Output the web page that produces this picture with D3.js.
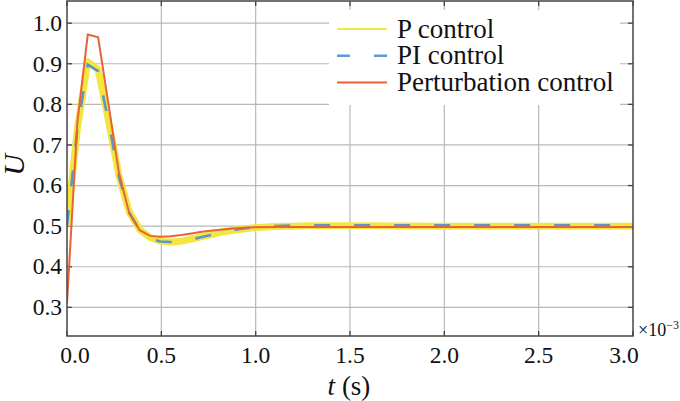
<!DOCTYPE html>
<html>
<head>
<meta charset="utf-8">
<script src="https://cdn.jsdelivr.net/npm/d3@7"></script>
<style>
  body { margin: 0; background: #fff; }
</style>
</head>
<body>
<div id="chart"></div>
<script>
// time in units of 1e-3 s
const time = [0, 0.055, 0.11, 0.165, 0.22, 0.275, 0.33, 0.385, 0.44, 0.495, 0.55, 0.605,
  0.66, 0.715, 0.77, 0.825, 0.88, 0.935, 0.99, 1.1, 1.2, 1.3, 1.5, 2.0, 2.5, 3.0];

const pControl = [0.50, 0.74, 0.905, 0.886, 0.76, 0.625, 0.535, 0.492, 0.472, 0.463, 0.461, 0.463,
  0.468, 0.474, 0.48, 0.486, 0.49, 0.493, 0.496, 0.499, 0.5, 0.501, 0.501, 0.5, 0.5, 0.5];

const piControl = [0.50, 0.74, 0.898, 0.882, 0.757, 0.622, 0.533, 0.49, 0.47, 0.462, 0.461, 0.463,
  0.467, 0.473, 0.479, 0.485, 0.49, 0.494, 0.497, 0.5, 0.502, 0.502, 0.502, 0.502, 0.502, 0.502];

const perturbControl = [0.31, 0.755, 0.972, 0.965, 0.80, 0.632, 0.532, 0.49, 0.476, 0.474, 0.475, 0.478,
  0.482, 0.486, 0.489, 0.492, 0.494, 0.496, 0.497, 0.498, 0.498, 0.498, 0.498, 0.498, 0.498, 0.498];

const seriesNames = ["P control", "PI control", "Perturbation control"];
const xTicks = [0, 0.5, 1.0, 1.5, 2.0, 2.5, 3.0];
const yTicks = [0.3, 0.4, 0.5, 0.6, 0.7, 0.8, 0.9, 1.0];

const width = 680, height = 401;
const pLeft = 67, pRight = 633, pTop = 1, pBottom = 336;

const svg = d3.select("#chart").append("svg")
  .attr("width", width)
  .attr("height", height)
  .attr("font-family", "Liberation Serif")
  .style("display", "block");

const x = d3.scaleLinear().domain([0, 3]).range([pLeft, pRight]);
const y = d3.scaleLinear().domain([0.2294, 1.0546]).range([pBottom, pTop]);

// grid
const grid = svg.append("g").attr("stroke", "#b9b9b9").attr("stroke-width", 1.2);
grid.selectAll(".vx").data(xTicks.slice(1, -1)).join("line")
  .attr("x1", d => x(d)).attr("x2", d => x(d))
  .attr("y1", pTop).attr("y2", pBottom);
grid.selectAll(".hy").data(yTicks).join("line")
  .attr("x1", pLeft).attr("x2", pRight)
  .attr("y1", d => y(d)).attr("y2", d => y(d));

// inward ticks on all four sides
const ticks = svg.append("g").attr("stroke", "#444").attr("stroke-width", 1.3);
ticks.selectAll(".tb").data(xTicks).join("line")
  .attr("x1", d => x(d)).attr("x2", d => x(d)).attr("y1", pBottom).attr("y2", pBottom - 5);
ticks.selectAll(".tt").data(xTicks).join("line")
  .attr("x1", d => x(d)).attr("x2", d => x(d)).attr("y1", pTop).attr("y2", pTop + 5);
ticks.selectAll(".tl").data(yTicks).join("line")
  .attr("x1", pLeft).attr("x2", pLeft + 5).attr("y1", d => y(d)).attr("y2", d => y(d));
ticks.selectAll(".tr").data(yTicks).join("line")
  .attr("x1", pRight).attr("x2", pRight - 5).attr("y1", d => y(d)).attr("y2", d => y(d));

// legend background hides the grid
svg.append("rect")
  .attr("x", 329).attr("y", 10).attr("width", 291).attr("height", 95)
  .attr("fill", "#fff");

// lines
svg.append("clipPath").attr("id", "plot-clip")
  .append("rect").attr("x", pLeft).attr("y", pTop).attr("width", pRight - pLeft).attr("height", pBottom - pTop);

const line = vals => d3.line()
  .x((d, i) => x(time[i]))
  .y(d => y(d))(vals);

const plot = svg.append("g").attr("clip-path", "url(#plot-clip)").attr("fill", "none");
plot.append("path").attr("d", line(pControl))
  .attr("stroke", "#f3e640").attr("stroke-width", 7).attr("stroke-linejoin", "round");
plot.append("path").attr("d", line(piControl))
  .attr("stroke", "#5b97c9").attr("stroke-width", 2.6).attr("stroke-dasharray", "16,24");
plot.append("path").attr("d", line(perturbControl))
  .attr("stroke", "#e8623a").attr("stroke-width", 2);

// frame
svg.append("rect")
  .attr("x", pLeft).attr("y", pTop).attr("width", pRight - pLeft).attr("height", pBottom - pTop)
  .attr("fill", "none").attr("stroke", "#444").attr("stroke-width", 1.5);

// tick labels
svg.append("g").selectAll("text").data(xTicks).join("text")
  .attr("x", (d, i) => x(d) + (i === 0 ? 8 : i === xTicks.length - 1 ? -9 : 0))
  .attr("y", 363)
  .attr("text-anchor", "middle")
  .attr("font-size", 23.5)
  .attr("fill", "#111")
  .text(d3.format(".1f"));

svg.append("g").selectAll("text").data(yTicks).join("text")
  .attr("x", pLeft - 5)
  .attr("y", d => y(d))
  .attr("dy", "0.33em")
  .attr("text-anchor", "end")
  .attr("font-size", 23.5)
  .attr("fill", "#111")
  .text(d3.format(".1f"));

// offset label
const mult = svg.append("text").attr("x", 638).attr("y", 336)
  .attr("font-size", 18).attr("fill", "#111");
mult.append("tspan").text("×10");
mult.append("tspan").attr("dy", -7).attr("font-size", 12).text("−3");

// axis labels
const xl = svg.append("text").attr("x", 349).attr("y", 395)
  .attr("text-anchor", "middle").attr("font-size", 27).attr("fill", "#111");
xl.append("tspan").attr("font-style", "italic").text("t");
xl.append("tspan").text(" (s)");

svg.append("text")
  .attr("transform", "translate(24,165) rotate(-90)")
  .attr("text-anchor", "middle")
  .attr("font-size", 30)
  .attr("font-style", "italic")
  .attr("fill", "#111")
  .text("U");

// legend
const legendStyles = [
  { color: "#f3e640", width: 2, dash: null },
  { color: "#5b9bd5", width: 2.6, dash: "13,24" },
  { color: "#e8623a", width: 2, dash: null }
];
const legend = svg.append("g");
seriesNames.forEach((name, i) => {
  const yy = 29 + i * 26.8;
  legend.append("line")
    .attr("x1", 337).attr("x2", 387).attr("y1", yy).attr("y2", yy)
    .attr("stroke", legendStyles[i].color)
    .attr("stroke-width", legendStyles[i].width)
    .attr("stroke-dasharray", legendStyles[i].dash);
  legend.append("text")
    .attr("x", 397).attr("y", yy + 8.5)
    .attr("font-size", 27)
    .attr("fill", "#111")
    .text(name);
});
</script>
</body>
</html>
